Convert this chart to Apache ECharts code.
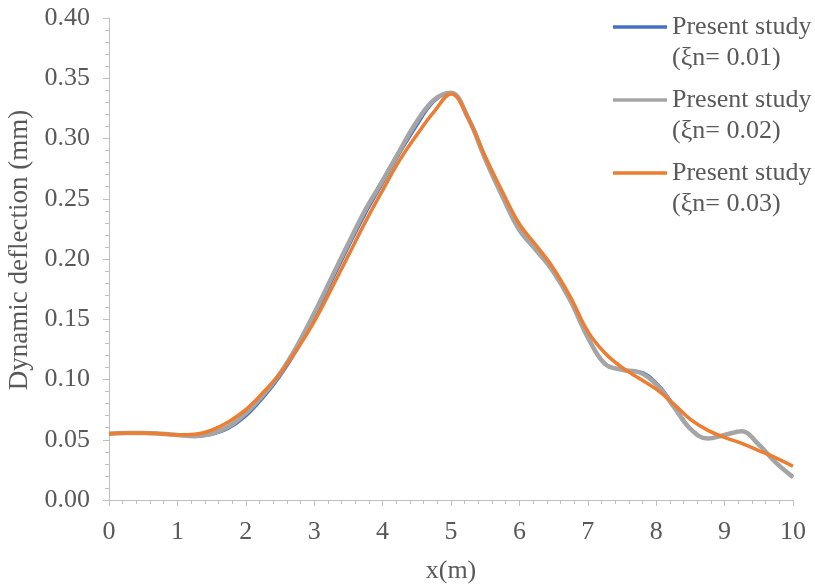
<!DOCTYPE html>
<html>
<head>
<meta charset="utf-8">
<script src="https://cdn.jsdelivr.net/npm/echarts@6/dist/echarts.min.js"></script>
<style>
  html, body { margin: 0; padding: 0; background: #fff; }
  #chart { width: 815px; height: 586px; }
</style>
</head>
<body>
<div id="chart"></div>
<script>
// Positions along the beam (m)
const xPositions = [
  0, 0.25, 0.5, 0.75, 1, 1.25, 1.5, 1.75, 2, 2.25,
  2.5, 2.75, 3, 3.25, 3.5, 3.75, 4, 4.25, 4.5, 4.75,
  5, 5.25, 5.5, 5.75, 6, 6.25, 6.5, 6.75, 7, 7.25,
  7.5, 7.75, 8, 8.25, 8.5, 8.75, 9, 9.25, 9.5, 9.75, 10
];

// Dynamic deflection (mm) for damping ratio 0.01
const deflection001 = [
  0.055, 0.0555, 0.0555, 0.055, 0.054, 0.0525, 0.054, 0.059, 0.069, 0.084,
  0.102, 0.124, 0.151, 0.180, 0.209, 0.237, 0.262, 0.287, 0.310, 0.330,
  0.338, 0.319, 0.286, 0.255, 0.226, 0.208, 0.190, 0.166, 0.136, 0.114,
  0.108, 0.107, 0.098, 0.080, 0.060, 0.051, 0.054, 0.0575, 0.047, 0.031, 0.019
];

// Dynamic deflection (mm) for damping ratio 0.02
const deflection002 = [
  0.055, 0.0555, 0.0555, 0.055, 0.054, 0.053, 0.055, 0.061, 0.072, 0.087,
  0.105, 0.128, 0.155, 0.184, 0.213, 0.241, 0.265, 0.290, 0.314, 0.332,
  0.338, 0.317, 0.283, 0.252, 0.224, 0.207, 0.189, 0.165, 0.135, 0.113,
  0.108, 0.106, 0.096, 0.078, 0.059, 0.051, 0.054, 0.057, 0.046, 0.031, 0.019
];

// Dynamic deflection (mm) for damping ratio 0.03
const deflection003 = [
  0.055, 0.0555, 0.0555, 0.055, 0.054, 0.0545, 0.058, 0.065, 0.075, 0.089,
  0.105, 0.125, 0.148, 0.175, 0.203, 0.231, 0.257, 0.282, 0.303, 0.322,
  0.337, 0.317, 0.285, 0.256, 0.229, 0.211, 0.192, 0.168, 0.140, 0.122,
  0.110, 0.101, 0.092, 0.080, 0.067, 0.058, 0.052, 0.047, 0.041, 0.035, 0.028
];

const seriesNames = [
  'Present study\n(ξn= 0.01)',
  'Present study\n(ξn= 0.02)',
  'Present study\n(ξn= 0.03)'
];
const seriesColors = ['#4472C4', '#A5A5A5', '#ED7D31'];
const seriesWidths = [2, 4.5, 3.5];
const seriesValues = [deflection001, deflection002, deflection003];

const FONT = 'Liberation Serif';
const TEXT = '#595959';
const AXIS = '#BFBFBF';

const chart = echarts.init(document.getElementById('chart'), null, { renderer: 'canvas' });

chart.setOption({
  backgroundColor: '#ffffff',
  animation: false,
  grid: {
    left: 109, right: 22, top: 18, bottom: 86,
    containLabel: false,
    outerBoundsMode: 'none'
  },
  legend: {
    orient: 'vertical',
    left: 613,
    top: -19.5,
    padding: 0,
    icon: 'rect',
    itemWidth: 54,
    itemHeight: 3.5,
    itemGap: -20,
    data: seriesNames,
    // leading blank line keeps the first text line level with the swatch
    formatter: name => '\n' + name,
    textStyle: {
      fontFamily: FONT,
      fontSize: 26,
      color: TEXT,
      lineHeight: 31
    }
  },
  xAxis: {
    type: 'value',
    min: 0,
    max: 10,
    interval: 1,
    name: 'x(m)',
    nameLocation: 'middle',
    nameGap: 58,
    nameTextStyle: { fontFamily: FONT, fontSize: 26, color: TEXT },
    axisLine: { show: true, lineStyle: { color: AXIS, width: 1 } },
    axisTick: { show: true, length: 6, lineStyle: { color: AXIS } },
    minorTick: { show: true, splitNumber: 5, length: 4, lineStyle: { color: AXIS } },
    splitLine: { show: false },
    axisLabel: { fontFamily: FONT, fontSize: 26, color: TEXT, margin: 19 }
  },
  yAxis: {
    type: 'value',
    min: 0,
    max: 0.4,
    interval: 0.05,
    name: 'Dynamic deflection (mm)',
    nameLocation: 'middle',
    nameGap: 71,
    nameRotate: 90,
    nameTextStyle: {
      fontFamily: FONT, fontSize: 27, color: TEXT,
      padding: [0, 0, 0, 18]
    },
    axisLine: { show: true, lineStyle: { color: AXIS, width: 1 } },
    axisTick: { show: true, length: 6, lineStyle: { color: AXIS } },
    minorTick: { show: true, splitNumber: 5, length: 4, lineStyle: { color: AXIS } },
    splitLine: { show: false },
    axisLabel: {
      fontFamily: FONT, fontSize: 26, color: TEXT, margin: 19,
      formatter: v => v.toFixed(2)
    }
  },
  series: seriesValues.map((vals, i) => ({
    name: seriesNames[i],
    type: 'line',
    data: xPositions.map((x, k) => [x, vals[k]]),
    smooth: 0.4,
    symbol: 'none',
    z: 2 + i,
    lineStyle: { color: seriesColors[i], width: seriesWidths[i] },
    itemStyle: { color: seriesColors[i] }
  }))
});
</script>
</body>
</html>
